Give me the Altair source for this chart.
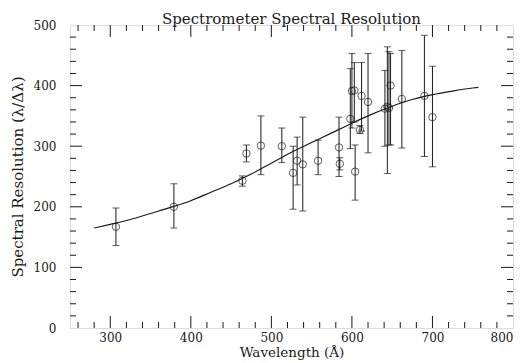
import altair as alt
import pandas as pd

# --- data ---
wavelength = [307, 379, 464, 469, 487, 513, 527, 532, 539, 558, 584, 585, 598, 600, 603,
              604, 610, 612, 620, 641, 644, 646, 648, 662, 690, 700]
resolution = [167, 200, 243, 288, 301, 300, 256, 276, 270, 276, 298, 271, 345, 391, 392,
              258, 327, 383, 373, 362, 365, 363, 400, 378, 383, 348]
err_low = [136, 165, 234, 274, 253, 273, 196, 236, 193, 253, 250, 261, 296, 330, 340,
           211, 321, 325, 289, 300, 255, 302, 302, 297, 283, 266]
err_high = [198, 238, 251, 302, 350, 330, 300, 315, 348, 310, 348, 281, 428, 453, 438,
            302, 334, 438, 453, 425, 464, 456, 453, 458, 483, 432]

curve_x = [280, 300, 325, 350, 375, 400, 425, 450, 475, 500, 525, 550, 575, 600, 625,
           650, 675, 700, 725, 750, 757]
curve_y = [165, 171, 179, 189, 199, 210, 224, 238, 254, 272, 290, 306, 322, 338, 353,
           366, 377, 385, 391, 396, 397]

x_major = [300, 400, 500, 600, 700]
x_minor = [260, 280, 320, 340, 360, 380, 420, 440, 460, 480, 520, 540, 560, 580,
           620, 640, 660, 680, 720, 740, 760, 780]
y_major = [100, 200, 300, 400]
y_minor = [20, 40, 60, 80, 120, 140, 160, 180, 220, 240, 260, 280, 320, 340, 360, 380,
           420, 440, 460, 480]

W, H = 443, 303
FONT = "DejaVu Serif"
INK = "#1a1a1a"

pts = pd.DataFrame({"wl": wavelength, "res": resolution, "lo": err_low, "hi": err_high})
curve = pd.DataFrame({"wl": curve_x, "res": curve_y})

xs = alt.Scale(domain=[250, 800], nice=False, zero=False)
ys = alt.Scale(domain=[0, 500], nice=False, zero=False)

x_axis = alt.Axis(values=[300, 400, 500, 600, 700, 800], ticks=False, domain=False, grid=False,
                  labelFont=FONT, labelFontSize=12, labelColor=INK, labelPadding=4,
                  titleFont=FONT, titleFontSize=13.5,
                  titleFontWeight="normal", titleColor=INK, titlePadding=2)
y_axis = alt.Axis(values=[0, 100, 200, 300, 400, 500], ticks=False, domain=False, grid=False,
                  labelFont=FONT, labelFontSize=12, labelColor=INK, labelPadding=14,
                  titleFont=FONT, titleFontSize=15,
                  titleFontWeight="normal", titleColor=INK, titlePadding=8)
XT = "Wavelength (Å)"
YT = "Spectral Resolution (λ/Δλ)"

def X(f):
    return alt.X(f, scale=xs, axis=x_axis, title=XT)

def Y(f):
    return alt.Y(f, scale=ys, axis=y_axis, title=YT)

points = alt.Chart(pts).mark_point(shape="circle", filled=False, size=55,
                                   stroke=INK, strokeWidth=1).encode(x=X("wl:Q"), y=Y("res:Q"))

bars = alt.Chart(pts).mark_rule(color=INK, strokeWidth=1).encode(
    x=X("wl:Q"), y=Y("lo:Q"), y2="hi:Q")
cap_lo = alt.Chart(pts).mark_tick(orient="horizontal", size=7, thickness=1, color=INK).encode(
    x=X("wl:Q"), y=Y("lo:Q"))
cap_hi = alt.Chart(pts).mark_tick(orient="horizontal", size=7, thickness=1, color=INK).encode(
    x=X("wl:Q"), y=Y("hi:Q"))

line = alt.Chart(curve).mark_line(color=INK, strokeWidth=1.2, interpolate="monotone").encode(
    x=X("wl:Q"), y=Y("res:Q"))

def xticks(vals, length):
    d = pd.DataFrame({"v": vals})
    b = alt.Chart(d).mark_rule(color=INK, strokeWidth=1).encode(
        x=X("v:Q"), y=alt.value(H), y2=alt.value(H - length))
    t = alt.Chart(d).mark_rule(color=INK, strokeWidth=1).encode(
        x=X("v:Q"), y=alt.value(0), y2=alt.value(length))
    return [b, t]

def yticks(vals, length):
    d = pd.DataFrame({"v": vals})
    l = alt.Chart(d).mark_rule(color=INK, strokeWidth=1).encode(
        y=Y("v:Q"), x=alt.value(0), x2=alt.value(length))
    r = alt.Chart(d).mark_rule(color=INK, strokeWidth=1).encode(
        y=Y("v:Q"), x=alt.value(W), x2=alt.value(W - length))
    return [l, r]

layers = [points, bars, cap_lo, cap_hi, line]
layers += xticks(x_major, 12) + xticks(x_minor, 6) + yticks(y_major, 12) + yticks(y_minor, 6)

chart = alt.layer(*layers).properties(
    width=W, height=H,
    title=alt.TitleParams("Spectrometer Spectral Resolution", font=FONT, fontSize=15,
                          fontWeight="normal", color=INK, anchor="middle", offset=0, dy=8),
    autosize=alt.AutoSizeParams(type="none"),
    padding={"left": 62, "top": 17, "right": 6, "bottom": 35},
).configure_view(stroke=INK, strokeWidth=1.2).configure(background="white")

chart.save("out.html", embed_options={"renderer": "svg", "actions": False})
